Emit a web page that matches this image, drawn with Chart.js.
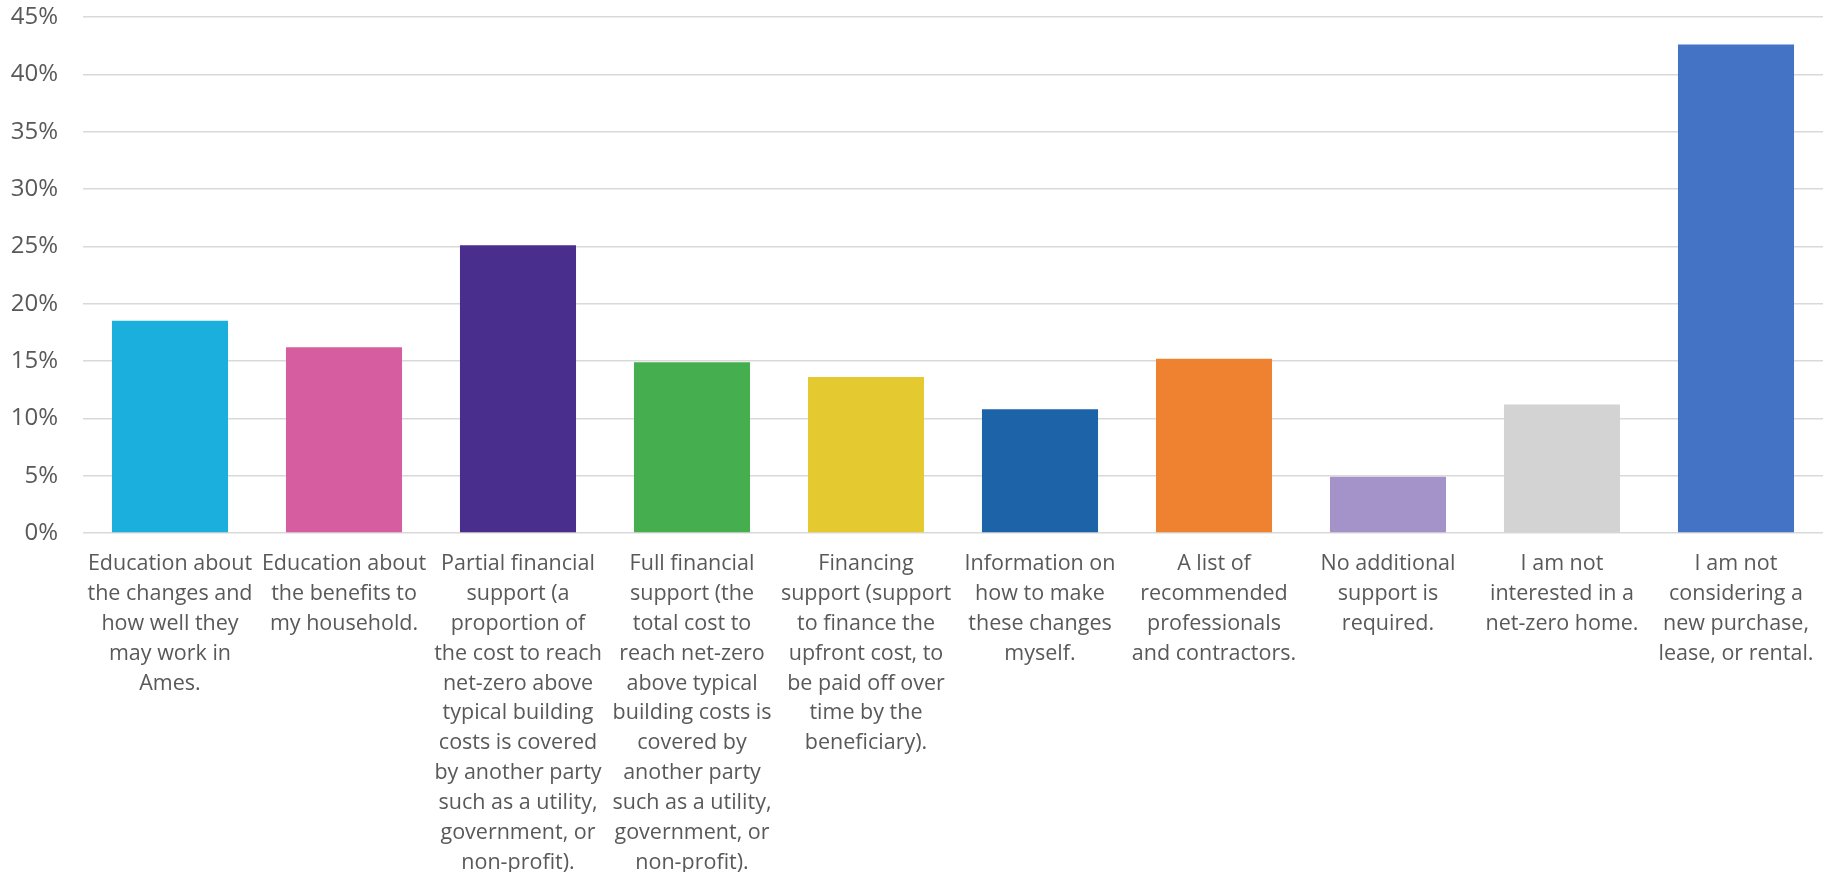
<!DOCTYPE html>
<html>
<head>
<meta charset="utf-8">
<script src="https://cdn.jsdelivr.net/npm/chart.js@4"></script>
<style>
  html, body { margin: 0; padding: 0; background: #ffffff; }
  #wrap { width: 1841px; height: 872px; position: relative; }
</style>
</head>
<body>
<div id="wrap"><canvas id="grafico"></canvas></div>
<script>
// categorias (rótulos do eixo x, já quebrados em linhas)
const categorias = [
    ["Education about", "the changes and", "how well they", "may work in", "Ames."],
    ["Education about", "the benefits to", "my household."],
    ["Partial financial", "support (a", "proportion of", "the cost to reach", "net-zero above", "typical building", "costs is covered", "by another party", "such as a utility,", "government, or", "non-profit)."],
    ["Full financial", "support (the", "total cost to", "reach net-zero", "above typical", "building costs is", "covered by", "another party", "such as a utility,", "government, or", "non-profit)."],
    ["Financing", "support (support", "to finance the", "upfront cost, to", "be paid off over", "time by the", "beneficiary)."],
    ["Information on", "how to make", "these changes", "myself."],
    ["A list of", "recommended", "professionals", "and contractors."],
    ["No additional", "support is", "required."],
    ["I am not", "interested in a", "net-zero home."],
    ["I am not", "considering a", "new purchase,", "lease, or rental."]
];

// porcentagens
const valores = [18.5, 16.2, 25.1, 14.9, 13.6, 10.8, 15.2, 4.9, 11.2, 42.6];

const cores = ['#1aafdc', '#d55da0', '#4a2e8e', '#45ae4e', '#e5c930',
               '#1c63a8', '#ef8230', '#a393c8', '#d3d3d4', '#4472c4'];

const rotulosY = ['0%', '5%', '10%', '15%', '20%', '25%', '30%', '35%', '40%', '45%'];

function desenhar() {
    const ctx = document.getElementById('grafico');
    new Chart(ctx, {
        type: 'bar',
        data: {
            labels: categorias,
            datasets: [{
                data: valores,
                backgroundColor: cores,
                borderWidth: 0,
                barPercentage: 0.667,
                categoryPercentage: 1.0,
            }],
        },
        options: {
            responsive: true,
            maintainAspectRatio: false,
            animation: false,
            layout: { padding: { top: 17, right: 18, left: 0, bottom: 0 } },
            plugins: {
                legend: { display: false },
                tooltip: { enabled: false },
            },
            scales: {
                x: {
                    grid: { display: false, drawTicks: false },
                    border: { display: false },
                    ticks: {
                        color: '#595959',
                        font: { family: '"Open Sans"', size: 21.5, lineHeight: 1.39 },
                        padding: 16,
                        maxRotation: 0,
                        minRotation: 0,
                        autoSkip: false,
                    },
                    afterFit: function (scale) { scale.height = 872 - 533; },
                },
                y: {
                    min: 0,
                    max: 45,
                    grid: { color: '#d9d9d9', lineWidth: 1.5, drawTicks: false },
                    border: { display: false },
                    ticks: {
                        stepSize: 5,
                        color: '#595959',
                        font: { family: '"Open Sans"', size: 24 },
                        padding: 25,
                        callback: function (v) { return rotulosY[Math.round(v / 5)]; },
                    },
                    afterFit: function (scale) {
                        scale.width = 83;
                        // sem folga extra em cima/embaixo
                        scale.paddingTop = 0;
                        scale.paddingBottom = 0;
                    },
                },
            },
        },
    });
}

document.fonts.load('22px "Open Sans"').then(desenhar, desenhar);
</script>
</body>
</html>
